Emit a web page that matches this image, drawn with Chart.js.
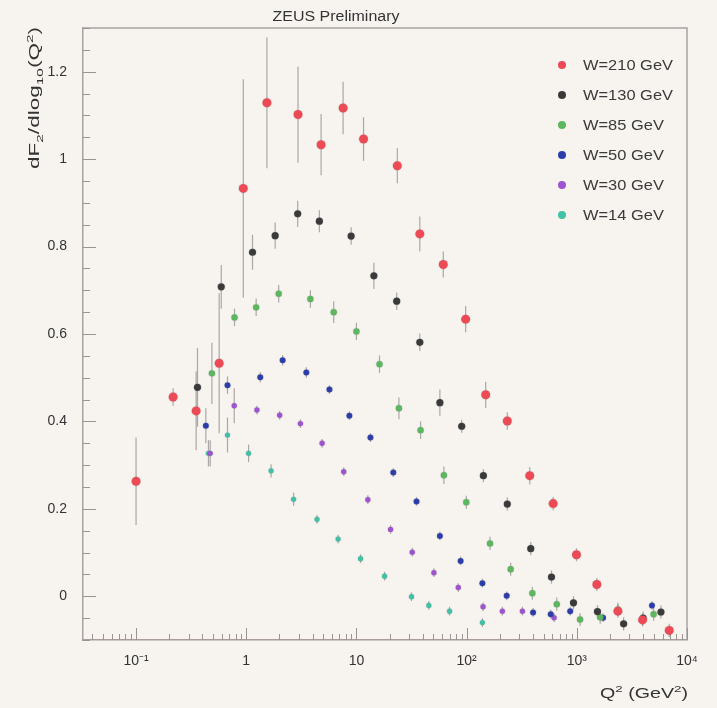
<!DOCTYPE html>
<html><head><meta charset="utf-8">
<script src="https://cdn.jsdelivr.net/npm/chart.js@4.4.1/dist/chart.umd.min.js"></script>
<style>
html,body{margin:0;padding:0;background:#f7f4f0;}
#wrap{width:717px;height:708px;position:relative;}
canvas{display:block;}
</style></head><body>
<div id="wrap"><canvas id="c" width="717" height="708"></canvas></div>
<script>
// ---------- DATA ----------
const seriesLabels = ["W=210 GeV", "W=130 GeV", "W=85 GeV", "W=50 GeV", "W=30 GeV", "W=14 GeV"];
const seriesColors = ["#ee4a55", "#3a3a3a", "#5cb85f", "#2c3daa", "#9f52d2", "#3fc2a6"];

const q2_210 = [0.1, 0.217, 0.351, 0.568, 0.94, 1.54, 2.95, 4.78, 7.57, 11.6, 23.5, 37.6, 61.4, 98, 149, 234, 374, 610, 993, 1520, 2360, 3950, 6900];
const f_210  = [0.263, 0.456, 0.424, 0.533, 0.933, 1.129, 1.102, 1.033, 1.117, 1.046, 0.985, 0.829, 0.759, 0.634, 0.461, 0.401, 0.276, 0.212, 0.095, 0.027, -0.034, -0.054, -0.078];
const e_210  = [0.10, 0.02, 0.09, 0.16, 0.25, 0.15, 0.11, 0.07, 0.06, 0.05, 0.04, 0.04, 0.03, 0.03, 0.03, 0.02, 0.02, 0.015, 0.015, 0.015, 0.015, 0.015, 0.015];

const q2_130 = [0.361, 0.593, 1.14, 1.83, 2.93, 4.61, 8.95, 14.4, 23.2, 37.6, 57.2, 90.2, 142, 234, 382, 589, 933, 1540, 2660, 4000, 5800];
const f_130  = [0.478, 0.708, 0.787, 0.825, 0.875, 0.858, 0.824, 0.733, 0.675, 0.581, 0.443, 0.389, 0.276, 0.211, 0.109, 0.044, -0.015, -0.035, -0.063, -0.050, -0.036];
const e_130  = [0.09, 0.05, 0.04, 0.03, 0.03, 0.025, 0.02, 0.03, 0.02, 0.02, 0.03, 0.015, 0.015, 0.015, 0.015, 0.015, 0.015, 0.015, 0.015, 0.015, 0.015];

const q2_85 = [0.488, 0.783, 1.23, 1.97, 3.82, 6.22, 10, 16.2, 24.3, 38.2, 62.2, 99.3, 163, 251, 395, 658, 1070, 1630, 2360, 4980];
const f_85  = [0.51, 0.638, 0.661, 0.692, 0.68, 0.65, 0.606, 0.531, 0.43, 0.38, 0.277, 0.215, 0.121, 0.062, 0.007, -0.018, -0.053, -0.048, -0.030, -0.041];
const e_85  = [0.07, 0.02, 0.02, 0.02, 0.02, 0.025, 0.02, 0.02, 0.025, 0.02, 0.02, 0.015, 0.015, 0.015, 0.015, 0.015, 0.015, 0.015, 0.015, 0.015];

const q2_50 = [0.43, 0.676, 1.34, 2.14, 3.51, 5.69, 8.63, 13.4, 21.6, 35.1, 57.2, 88.2, 139, 231, 401, 580, 871, 1730, 4810];
const f_50  = [0.39, 0.483, 0.501, 0.54, 0.512, 0.473, 0.413, 0.363, 0.283, 0.217, 0.138, 0.081, 0.03, 0.001, -0.037, -0.041, -0.034, -0.049, -0.021];
const e_50  = [0.04, 0.02, 0.012, 0.012, 0.012, 0.01, 0.01, 0.01, 0.01, 0.01, 0.01, 0.01, 0.01, 0.01, 0.01, 0.01, 0.01, 0.01, 0.01];

const q2_30 = [0.471, 0.778, 1.25, 2.01, 3.1, 4.88, 7.67, 12.7, 20.4, 32.1, 50.5, 84, 141, 211, 321, 622];
const f_30  = [0.327, 0.436, 0.426, 0.414, 0.395, 0.35, 0.285, 0.221, 0.153, 0.101, 0.054, 0.02, -0.024, -0.034, -0.034, -0.049];
const e_30  = [0.03, 0.04, 0.01, 0.01, 0.01, 0.01, 0.01, 0.01, 0.01, 0.01, 0.01, 0.01, 0.01, 0.01, 0.01, 0.01];

const q2_14 = [0.454, 0.676, 1.05, 1.68, 2.69, 4.39, 6.82, 10.9, 18, 31.6, 45.4, 70, 139];
const f_14  = [0.327, 0.369, 0.327, 0.287, 0.222, 0.176, 0.131, 0.086, 0.046, -0.001, -0.021, -0.034, -0.06];
const e_14  = [0.03, 0.04, 0.02, 0.015, 0.015, 0.01, 0.01, 0.01, 0.01, 0.01, 0.01, 0.01, 0.01];

const xTickValues = [0.1, 1, 10, 100, 1000, 10000];
const xTickLabels = ["10\u207B\u00B9", "1", "10", "10\u00B2", "10\u00B3", "10\u2074"];
const yTickValues = [0, 0.2, 0.4, 0.6, 0.8, 1.0, 1.2];
const yTickLabels = ["0", "0.2", "0.4", "0.6", "0.8", "1", "1.2"];

// ---------- build datasets ----------
const allQ2 = [q2_210, q2_130, q2_85, q2_50, q2_30, q2_14];
const allF  = [f_210, f_130, f_85, f_50, f_30, f_14];
const allE  = [e_210, e_130, e_85, e_50, e_30, e_14];
const radii = [4.5, 3.6, 3.2, 3.0, 2.7, 2.6];

const datasets = seriesLabels.map((lab, k) => ({
  label: lab,
  data: allQ2[k].map((q, i) => ({x: q, y: allF[k][i]})),
  errors: allE[k],
  showLine: false,
  pointRadius: radii[k],
  pointHoverRadius: radii[k],
  pointBackgroundColor: seriesColors[k],
  pointBorderColor: 'rgba(120,120,120,0.12)',
  pointBorderWidth: 1.5,
  backgroundColor: seriesColors[k],
  borderColor: seriesColors[k]
}));

const FONT = '"Liberation Sans", Arial, Helvetica, sans-serif';

function richMeasure(ctx, parts, size) {
  let w = 0;
  for (const p of parts) {
    ctx.font = ((p.s || p.u) ? size * 0.68 : size) + 'px ' + FONT;
    w += ctx.measureText(p.t).width;
  }
  return w;
}
function drawRich(ctx, parts, x, y, size, align, targetW) {
  const w = richMeasure(ctx, parts, size);
  const sx = targetW ? targetW / w : 1;
  ctx.save();
  ctx.translate(x, y);
  const start = align === 'right' ? -w * sx : (align === 'center' ? -w * sx / 2 : 0);
  ctx.translate(start, 0);
  ctx.scale(sx, 1);
  ctx.textAlign = 'left';
  ctx.textBaseline = 'alphabetic';
  let cx = 0;
  for (const p of parts) {
    ctx.font = ((p.s || p.u) ? size * 0.68 : size) + 'px ' + FONT;
    const dy = p.s ? size * 0.28 : (p.u ? -size * 0.42 : 0);
    ctx.fillText(p.t, cx, dy);
    cx += ctx.measureText(p.t).width;
  }
  ctx.restore();
}

const decor = {
  id: 'decor',
  beforeDatasetsDraw(chart) {
    const {ctx, chartArea: a, scales: {x, y}} = chart;
    ctx.save();
    // frame top and right
    ctx.strokeStyle = '#a8a2a2';
    ctx.lineWidth = 1.5;
    ctx.beginPath();
    ctx.moveTo(a.left, a.top); ctx.lineTo(a.right, a.top); ctx.lineTo(a.right, a.bottom);
    ctx.stroke();
    // inner ticks
    ctx.strokeStyle = '#9a9494';
    ctx.lineWidth = 1;
    ctx.beginPath();
    for (let i = -2; i <= 26; i++) {
      const v = i * 0.05;
      if (v < y.min - 1e-9 || v > y.max + 1e-9) continue;
      const py = Math.round(y.getPixelForValue(v)) + 0.5;
      const major = (i % 4 === 0);
      ctx.moveTo(a.left, py); ctx.lineTo(a.left + (major ? 13 : 7), py);
    }
    for (let n = -2; n <= 4; n++) {
      for (let d = 1; d <= 9; d++) {
        const v = d * Math.pow(10, n);
        if (v < x.min || v > x.max * 1.0001) continue;
        const px = Math.round(x.getPixelForValue(v)) + 0.5;
        const len = d === 1 ? 12 : 6;
        ctx.moveTo(px, a.bottom); ctx.lineTo(px, a.bottom - len);
      }
    }
    ctx.stroke();
    // error bars
    ctx.strokeStyle = 'rgba(105,105,105,0.55)';
    ctx.lineWidth = 1.2;
    chart.data.datasets.forEach((ds, k) => {
      const meta = chart.getDatasetMeta(k);
      ds.data.forEach((pt, i) => {
        const el = meta.data[i];
        const e = ds.errors[i];
        const y1 = y.getPixelForValue(pt.y + e), y2 = y.getPixelForValue(pt.y - e);
        ctx.beginPath();
        ctx.moveTo(el.x, y1); ctx.lineTo(el.x, y2);
        ctx.stroke();
      });
    });
    ctx.restore();
  },
  afterDraw(chart) {
    const {ctx, chartArea: a} = chart;
    ctx.save();
    ctx.fillStyle = '#333';
    // title
    drawRich(ctx, [{t: 'ZEUS Preliminary'}], 336, 21, 14, 'center', 127);
    // x axis title
    drawRich(ctx, [{t: 'Q'}, {t: '2', u: true}, {t: ' (GeV'}, {t: '2', u: true}, {t: ')'}], a.right + 1, 698, 14, 'right', 88);
    // y axis title (rotated)
    ctx.save();
    ctx.translate(39, 27);
    ctx.rotate(-Math.PI / 2);
    drawRich(ctx, [{t: 'dF'}, {t: '2', s: true}, {t: '/dlog'}, {t: '10', s: true}, {t: '(Q'}, {t: '2', u: true}, {t: ')'}], 0, 0, 14, 'right', 142);
    ctx.restore();
    // legend
    const rowY0 = 65, rowDy = 30;
    ctx.font = '14px ' + FONT;
    const sx = 90 / ctx.measureText('W=210 GeV').width;
    chart.data.datasets.forEach((ds, k) => {
      const yy = rowY0 + k * rowDy;
      ctx.fillStyle = ds.pointBackgroundColor;
      ctx.beginPath();
      ctx.arc(562, yy, 4, 0, Math.PI * 2);
      ctx.fill();
      ctx.fillStyle = '#3a3a3a';
      ctx.save();
      ctx.translate(583, yy);
      ctx.scale(sx, 1);
      ctx.font = '14px ' + FONT;
      ctx.textAlign = 'left';
      ctx.textBaseline = 'middle';
      ctx.fillText(ds.label, 0, 1);
      ctx.restore();
    });
    ctx.restore();
  }
};

new Chart(document.getElementById('c'), {
  type: 'scatter',
  data: {datasets},
  options: {
    responsive: false,
    animation: false,
    devicePixelRatio: 1,
    layout: {padding: {top: 28, right: 30, left: 0, bottom: 0}},
    plugins: {legend: {display: false}, title: {display: false}, tooltip: {enabled: false}},
    scales: {
      x: {
        type: 'logarithmic',
        position: 'bottom',
        min: 0.033,
        max: 10000,
        grid: {display: false, drawTicks: false},
        border: {display: true, color: '#a89c9c', width: 1.5},
        ticks: {
          autoSkip: false, maxRotation: 0, padding: 13,
          color: '#333', font: {family: FONT, size: 14},
          callback: (v) => { const i = xTickValues.findIndex(t => Math.abs(t - v) / t < 1e-6); return i >= 0 ? xTickLabels[i] : ''; }
        },
        afterBuildTicks: (s) => { s.ticks = xTickValues.map(v => ({value: v})); },
        afterFit: (s) => { s.height = 68; }
      },
      y: {
        type: 'linear',
        min: -0.1,
        max: 1.3,
        grid: {display: false, drawTicks: false},
        border: {display: true, color: '#aaa2a2', width: 1.5},
        ticks: {
          padding: 16, color: '#333', font: {family: FONT, size: 14},
          callback: (v) => { const i = yTickValues.findIndex(t => Math.abs(t - v) < 1e-6); return i >= 0 ? yTickLabels[i] : ''; }
        },
        afterBuildTicks: (s) => { s.ticks = yTickValues.map(v => ({value: v})); },
        afterFit: (s) => { s.width = 83; }
      }
    }
  },
  plugins: [decor]
});
</script>
</body></html>
